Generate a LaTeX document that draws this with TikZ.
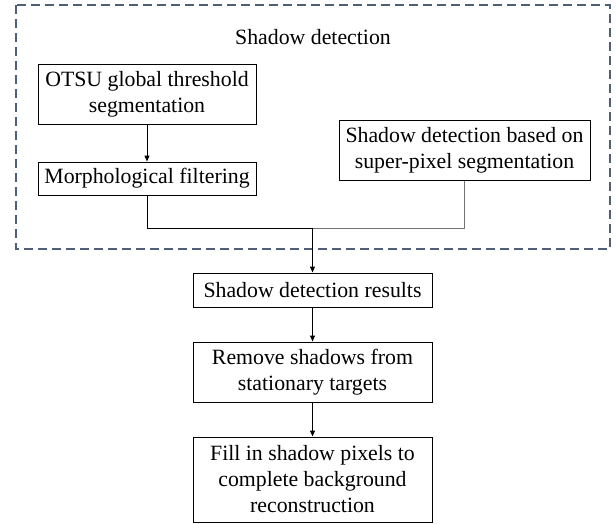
\documentclass[tikz,border=0pt]{standalone}
\usepackage{fontspec}
\setmainfont{Liberation Serif}
\usetikzlibrary{arrows.meta}
\tikzset{block/.style = {draw, fill=white, line width=1pt, rectangle, inner sep=0pt, align=center, minimum width=218pt},
         boxtext/.style = {font=\rmfamily\fontsize{21.8}{26}\selectfont},
         frame/.style = {draw=frameblue, line width=1.2pt, dash pattern=on 9pt off 5pt},
         link/.style = {line width=1pt},
         greylink/.style = {draw=black!55, line width=0.7pt},
         arrow/.style = {line width=1pt, -{Triangle[length=6pt,width=5pt]}}}
\definecolor{frameblue}{HTML}{4F5F78}

\begin{document}
\begin{tikzpicture}[x=1pt,y=-1pt,every node/.style={boxtext}]
        \useasboundingbox (0,0) rectangle (616,523);
        \draw[frame] (16,5) rectangle (610,249);
        \node (title) at (313,37) {Shadow detection};

        \node[block, minimum height=60pt] (otsu) at (147,94) {OTSU global threshold\\segmentation};
        \node[block, minimum height=33pt] (morph) at (147,178.5) {Morphological filtering};
        \node[block, minimum width=251pt, minimum height=60pt] (superpx) at (464.5,150) {Shadow detection based on\\super-pixel segmentation};

        \node[block, minimum width=239pt, minimum height=34pt] (result) at (312.5,290) {Shadow detection results};
        \node[block, minimum width=239pt, minimum height=60pt] (remove) at (312.5,372) {Remove shadows from\\stationary targets};
        \node[block, minimum width=239pt, minimum height=85pt] (fill) at (312.5,479.5) {Fill in shadow pixels to\\complete background\\reconstruction};

        \coordinate (join) at (312.5,228);
        \draw[arrow] (otsu) -- (morph);
        \draw[link] (morph.south) |- (join);
        \draw[greylink] (superpx.south) |- (join);
        \draw[arrow] (join) -- (result);
        \draw[arrow] (result) -- (remove);
        \draw[arrow] (remove) -- (fill);
    \end{tikzpicture}
\end{document}
